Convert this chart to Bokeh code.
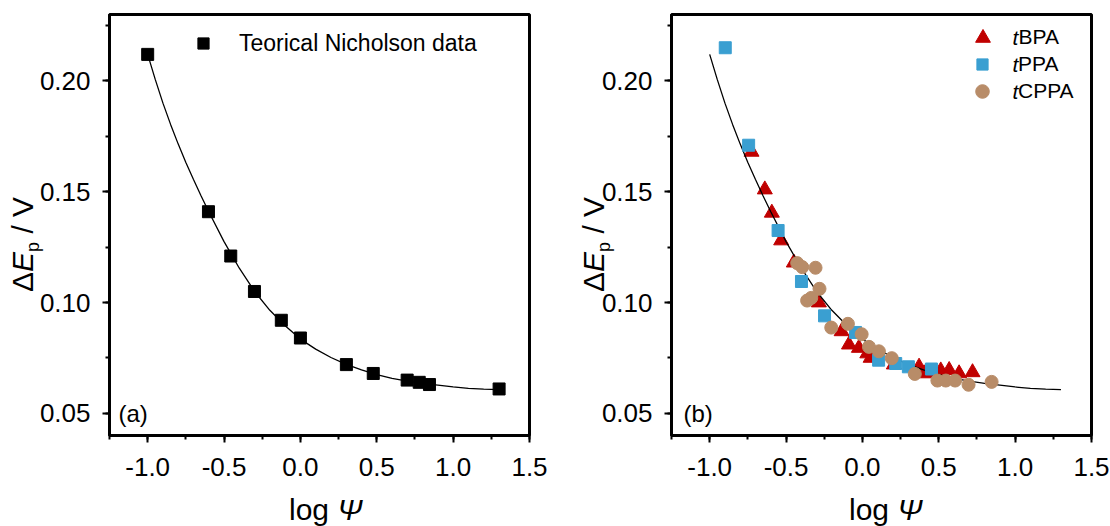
import math
from bokeh.plotting import figure
from bokeh.layouts import row, column
from bokeh.models import (SingleIntervalTicker, NumeralTickFormatter, Range1d,
                          Legend, LegendItem, Label, Div)
from bokeh.embed import file_html
from bokeh.resources import INLINE

# ---------------- data ----------------
# (a) theoretical Nicholson data
nich_log_psi = [-1.0, -0.602, -0.456, -0.301, -0.125, 0.0, 0.301, 0.477, 0.699, 0.778, 0.845, 1.301]
nich_dEp = [0.212, 0.141, 0.121, 0.105, 0.092, 0.084, 0.072, 0.068, 0.065, 0.064, 0.063, 0.061]

# fitted curve
fit_x = [-1.0, -0.95, -0.9, -0.85, -0.8, -0.75, -0.7, -0.65, -0.6, -0.5, -0.4, -0.3, -0.2, -0.1,
         0.0, 0.1, 0.2, 0.3, 0.4, 0.5, 0.6, 0.7, 0.8, 0.9, 1.0, 1.1, 1.2, 1.3]
fit_y = [0.2120, 0.2006, 0.1900, 0.1804, 0.1715, 0.1632, 0.1555, 0.1481, 0.1410, 0.1275, 0.1155,
         0.1050, 0.0965, 0.0895, 0.0835, 0.0790, 0.0752, 0.0721, 0.0696, 0.0675, 0.0658, 0.0645,
         0.0635, 0.0627, 0.0619, 0.0613, 0.0609, 0.0607]

# (b) experimental data
tbpa_x = [-0.726, -0.639, -0.593, -0.532, -0.449, -0.285, -0.136, -0.088, -0.023, 0.032, 0.054,
          0.206, 0.371, 0.404, 0.436, 0.513, 0.568, 0.633, 0.721]
tbpa_y = [0.168, 0.151, 0.1405, 0.128, 0.118, 0.100, 0.087, 0.081, 0.0795, 0.077, 0.075,
          0.072, 0.071, 0.068, 0.0685, 0.0693, 0.0695, 0.068, 0.0685]

tppa_x = [-0.898, -0.745, -0.552, -0.399, -0.248, -0.045, 0.106, 0.218, 0.301, 0.452]
tppa_y = [0.215, 0.171, 0.1325, 0.1095, 0.094, 0.0865, 0.074, 0.0725, 0.071, 0.070]

tcppa_x = [-0.427, -0.394, -0.307, -0.281, -0.335, -0.362, -0.204, -0.095, -0.005, 0.043, 0.108,
           0.192, 0.343, 0.491, 0.546, 0.607, 0.695, 0.846]
tcppa_y = [0.1178, 0.116, 0.1157, 0.1062, 0.1021, 0.1009, 0.0887, 0.0904, 0.0857, 0.080, 0.078,
           0.0749, 0.0678, 0.0648, 0.0648, 0.0648, 0.0629, 0.0642]

series_b = ["BPA", "PPA", "CPPA"]   # shown with an italic "t" prefix

FONT = "Liberation Sans"
RED = "#C00000"
BLUE = "#3A9FD1"
TAN = "#B88C68"

FW, FH = 420, 421
MBT, MBB, MBL = 14, 72, 86
FIG_H = MBT + FH + MBB          # 507
XDIV_H = 526 - FIG_H            # 19


def make_fig(br):
    p = figure(frame_width=FW, frame_height=FH, min_border_left=MBL, min_border_right=br,
               min_border_top=MBT, min_border_bottom=MBB,
               x_range=Range1d(-1.25, 1.5), y_range=Range1d(0.04, 0.23),
               output_backend="svg", toolbar_location=None, tools="")
    p.xgrid.visible = False
    p.ygrid.visible = False
    p.background_fill_color = "white"
    p.border_fill_alpha = 0
    p.outline_line_color = "black"
    p.outline_line_width = 3
    p.outline_line_alpha = 1.0
    p.xaxis.ticker = SingleIntervalTicker(interval=0.5, num_minor_ticks=2)
    p.yaxis.ticker = SingleIntervalTicker(interval=0.05, num_minor_ticks=2)
    p.xaxis.formatter = NumeralTickFormatter(format="0.0")
    p.yaxis.formatter = NumeralTickFormatter(format="0.00")
    for ax in (p.xaxis, p.yaxis):
        ax.axis_line_width = 3
        ax.axis_line_color = "black"
        ax.major_tick_line_width = 2
        ax.minor_tick_line_width = 2
        ax.major_tick_line_color = "black"
        ax.minor_tick_line_color = "black"
        ax.major_tick_out = 7
        ax.major_tick_in = 0
        ax.minor_tick_out = 4
        ax.minor_tick_in = 0
        ax.major_label_text_font = FONT
        ax.major_label_text_font_size = "26px"
        ax.major_label_text_color = "black"
    p.xaxis.major_label_standoff = 15
    p.yaxis.major_label_standoff = 12
    return p


def ylab_div(width, left):
    html = (
        f'<div style="position:relative;width:{width}px;height:{FIG_H}px;">'
        f'<div style="position:absolute;left:{left}px;top:292px;transform:rotate(-90deg);'
        f'transform-origin:0 0;white-space:nowrap;font-family:\'{FONT}\';font-size:30px;'
        f'line-height:30px;color:black;">'
        f'\u0394<i>E</i><span style="font-size:18px;position:relative;top:6px;">p</span> / V'
        f'</div></div>'
    )
    return Div(text=html, width=width, height=FIG_H, margin=0,
               styles={"overflow": "visible"})


def xlab_div(width, left):
    html = (
        f'<div style="position:relative;width:{width}px;height:{XDIV_H}px;">'
        f'<div style="position:absolute;left:{left}px;top:-12px;white-space:nowrap;'
        f'font-family:\'{FONT}\';font-size:30px;line-height:30px;color:black;">'
        f'log <i>\u03a8</i></div></div>'
    )
    return Div(text=html, width=width, height=XDIV_H, margin=0,
               styles={"overflow": "visible"})


def one_row_legend(label, renderer, glyph_box, cx, cy, text_x, size_px):
    # cx, cy: marker centre relative to frame (left, bottom); text_x: text start
    return Legend(items=[LegendItem(label=label, renderers=[renderer])],
                  location=(cx - glyph_box / 2, cy - glyph_box / 2),
                  glyph_width=glyph_box, glyph_height=glyph_box, label_height=glyph_box,
                  label_standoff=int(round(text_x - (cx + glyph_box / 2))),
                  padding=0, margin=0, border_line_color=None, background_fill_alpha=0,
                  label_text_font=FONT, label_text_font_size=size_px,
                  label_text_color="black")


# ---------------- panel (a) ----------------
pa = make_fig(46)   # 86 + 420 + 46 = 552
pa.line(fit_x, fit_y, line_color="black", line_width=1.3)
sq = pa.scatter(nich_log_psi, nich_dEp, marker="square", size=12, fill_color="black",
                line_color="black")
pa.add_layout(one_row_legend("Teorical Nicholson data", sq, 28, 94, 392, 130, "23px"))
pa.add_layout(Label(x=9, y=22, x_units="screen", y_units="screen", text="(a)",
                    text_font=FONT, text_font_size="24px", text_color="black",
                    text_align="left", text_baseline="middle"))

# ---------------- panel (b) ----------------
pb = make_fig(19)   # 86 + 420 + 19 = 525
tri = pb.scatter(tbpa_x, tbpa_y, marker="triangle", size=15, fill_color=RED, line_color=RED)
pb.line(fit_x, fit_y, line_color="black", line_width=1.3)
sqb = pb.scatter(tppa_x, tppa_y, marker="square", size=12, fill_color=BLUE, line_color=BLUE)
cir = pb.scatter(tcppa_x, tcppa_y, marker="circle", size=13, fill_color=TAN, line_color=TAN)
rows_cy = [398, 371, 344]
boxes = [37, 28, 34]
for lab, rend, box, cy in zip(series_b, [tri, sqb, cir], boxes, rows_cy):
    pb.add_layout(one_row_legend(lab, rend, box, 311, cy, 347, "21px"))
    pb.add_layout(Label(x=341, y=cy, x_units="screen", y_units="screen", text="t",
                        text_font=FONT, text_font_size="21px", text_font_style="italic",
                        text_color="black", text_align="left", text_baseline="middle"))
pb.add_layout(Label(x=12, y=22, x_units="screen", y_units="screen", text="(b)",
                    text_font=FONT, text_font_size="24px", text_color="black",
                    text_align="left", text_baseline="middle"))

# layout: [ylab a 23][fig a 552][ylab b 10][fig b 525] = 1110
panel_a = column(row(ylab_div(23, 8), pa), xlab_div(575, 289))
panel_b = column(row(ylab_div(10, 4), pb), xlab_div(535, 274))
layout = row(panel_a, panel_b)
open("out.html", "w").write(file_html(layout, INLINE))
